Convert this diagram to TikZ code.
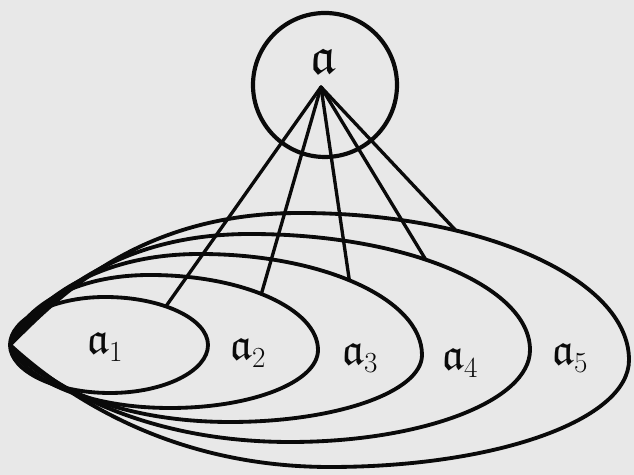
\documentclass[tikz,border=0pt]{standalone}
\usepackage{amssymb}
\definecolor{paper}{RGB}{232,232,232}
\definecolor{ink}{RGB}{10,10,10}
\begin{document}
\begin{tikzpicture}[x=0.3mm,y=0.3mm,
  curve/.style={draw=ink,line width=1.15mm,line cap=round,line join=round},
  ray/.style={draw=ink,line width=1mm,line cap=round},
  lab/.style={text=ink,font=\fontsize{38}{38}\selectfont,inner sep=0pt}]
\fill[paper] (0,0) rectangle (634,475);
\useasboundingbox (0,0) rectangle (634,475);
% top circle
\node[circle,draw=ink,line width=1.25mm,minimum size=144*0.3mm,inner sep=0pt] (top) at (325,390) {};
\node[lab,font=\fontsize{44}{44}\selectfont] (ta) at (323,414) {$\mathfrak{a}$};
\coordinate (c) at (321,388);
% nested ellipses sharing a left point
\coordinate (L) at (10,130);
\draw[curve] (L) .. controls +(90:26) and +(-52,0) .. (105,178)
  .. controls +(57,0) and +(0,26) .. coordinate[pos=0.4] (p1) (208,130)
  .. controls +(0,-26) and +(54,0) .. (110,82)
  .. controls +(-55,0) and +(-90:26) .. (L) -- cycle;
\draw[curve] (L) .. controls +(70:40) and +(-77,0) .. (150,200)
  .. controls +(93,0) and +(0,41) .. coordinate[pos=0.46] (p2) (318,125)
  .. controls +(0,-32) and +(82,0) .. (170,67)
  .. controls +(-88,0) and +(-68:35) .. (L) -- cycle;
\draw[curve] (L) .. controls +(60:50) and +(-105,0) .. (200,221)
  .. controls +(122,0) and +(0,56) .. coordinate[pos=0.47] (p3) (422,120)
  .. controls +(0,-37) and +(106,0) .. (230,53)
  .. controls +(-121,0) and +(-55:40) .. (L) -- cycle;
\draw[curve] (L) .. controls +(52:60) and +(-132,0) .. (250,241)
  .. controls +(155,0) and +(0,64) .. coordinate[pos=0.43] (p4) (530,125)
  .. controls +(0,-51) and +(132,0) .. (290,33)
  .. controls +(-155,0) and +(-48:45) .. (L) -- cycle;
\draw[curve] (L) .. controls +(45:70) and +(-160,0) .. (300,262)
  .. controls +(182,0) and +(0,81) .. coordinate[pos=0.31] (p5) (629,115)
  .. controls +(0,-60) and +(166,0) .. (330,8)
  .. controls +(-177,0) and +(-42:50) .. (L) -- cycle;
% rays from the circle's centre
\foreach \p in {p1,p2,p3,p4,p5} \draw[ray] (c) -- (\p);
% labels
\node[lab] (a1) at (105,128) {$\mathfrak{a}_1$};
\node[lab] (a2) at (248,122) {$\mathfrak{a}_2$};
\node[lab] (a3) at (360,117) {$\mathfrak{a}_3$};
\node[lab] (a4) at (460,112) {$\mathfrak{a}_4$};
\node[lab] (a5) at (570,117) {$\mathfrak{a}_5$};
\end{tikzpicture}
\end{document}
